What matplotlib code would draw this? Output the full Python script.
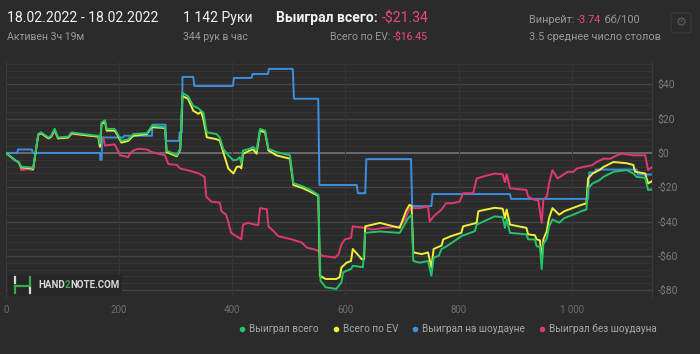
import numpy as np
import matplotlib.pyplot as plt
from matplotlib.lines import Line2D
from matplotlib.patches import FancyBboxPatch, Rectangle

plt.rcParams['font.family'] = ['Roboto', 'DejaVu Sans']

# --- data (hands, $) ---
total_x = [0, 16, 22, 27, 45, 48, 51, 57, 62, 75, 80, 86, 92, 110, 116, 136, 163, 166, 169, 175, 178, 192,
           196, 204, 216, 225, 249, 258, 281, 284, 302, 308, 312, 322, 331, 340, 345, 349, 355, 372, 378,
           384, 393, 402, 408, 413, 416, 419, 431, 437, 443, 449, 458, 464, 478, 502, 508, 525, 537, 552,
           556, 565, 584, 593, 596, 610, 613, 631, 635, 661, 696, 711, 717, 720, 731, 746, 752, 756, 765,
           770, 778, 790, 805, 829, 832, 864, 878, 882, 885, 891, 920, 923, 935, 938, 944, 947, 950, 956,
           960, 966, 978, 987, 1003, 1017, 1026, 1029, 1037, 1049, 1056, 1074, 1097, 1109, 1115, 1130,
           1135, 1142]
total_y = [0, -4.3, -5.3, -8, -8.5, -9, -2.4, 11, 12, 9, 10, 14, 9, 9.5, 12, 11, 10, 5.5, 17.8, 19, 14, 14,
           12, 7, 8, 11, 11.5, 15.8, 15, 1.4, -1.4, 2.6, 35, 33, 27.4, 26, 24.5, 23.5, 12, 11, 9,
           2.4, -1.4, -4.3, -4, -2.5, -6, 1.4, 2.4, 3.5, 1.5, 14, 13, 2.4, 0.5, -1.4, -17.6, -19.5, -21.4, -24.5,
           -74.5, -78.3, -79.3, -75.4, -69.6, -67.7, -65.8, -66.6, -46.6, -45.8, -46.6, -38, -36, -63, -64, -63, -71.6, -61, -60,
           -56, -54.6, -52, -48.5, -45.6, -41.8, -37, -37.5, -43.7, -38.5, -46.6, -47.5, -50.4, -50.4, -54.3, -55, -67.7, -53, -50,
           -42.8, -38.8, -40.7, -38, -36, -34, -33, -20.6, -17.8, -15.9, -14, -11, -10, -12, -14, -14.5,
           -21.6, -21.3]

ev_x = [0, 16, 22, 27, 45, 48, 51, 57, 62, 75, 80, 86, 92, 110, 116, 136, 163, 166, 169, 175, 178, 192,
        196, 204, 216, 225, 249, 258, 281, 284, 302, 308, 312, 322, 331, 340, 345, 349, 355, 372, 378,
        384, 393, 402, 408, 413, 416, 419, 431, 437, 443, 449, 458, 464, 478, 502, 508, 525, 537, 552,
        555, 565, 584, 590, 593, 602, 610, 613, 629, 633, 635, 661, 696, 707, 713, 717, 720, 735, 746,
        752, 756, 770, 773, 787, 805, 808, 832, 835, 849, 864, 878, 882, 885, 891, 920, 923, 935, 938,
        944, 947, 950, 956, 960, 966, 978, 987, 1003, 1017, 1026, 1029, 1037, 1049, 1056, 1074, 1097,
        1109, 1112, 1130, 1135, 1142]
ev_y = [0, -4.3, -5.3, -8.5, -9, -9.5, -2.8, 10.5, 11.5, 8.5, 9.5, 13.5, 8.5, 9, 11.5, 10.5, 9.5, 3.5, 17, 18, 13, 13,
        11, 6, 7, 10, 11, 15, 14.5, 0.5, -2, 2, 33.2, 31.5, 24.6, 22.8, 24, 19.6, 9.1, 8, 7.2,
        0.5, -9.1, -12, -8.1, -8, -9, -0.5, 1.4, 2, -0.5, 13, 12, 1.4, -1.4, -3.4, -18.7, -20.6, -22.5, -25,
        -71.6, -73.5, -73.5, -72.4, -66.8, -64, -63, -56, -62, -62, -42.8, -40.8, -43.7, -34, -30.3, -31, -58, -59, -58,
        -66.8, -56, -54, -50.4, -48.5, -46.6, -42.8, -40.8, -34, -33, -32, -32.5, -38, -33, -41.8, -43.7, -47.5, -48, -50.4,
        -51, -63, -50.4, -45.6, -38, -32.2, -36, -34, -32, -30.3, -29.4, -14.9, -12, -10, -8.2, -5.3, -6,
        -7, -11, -12, -17.8, -16.5]

sd_x = [0, 20, 21, 46, 47, 166, 167, 169, 170, 207, 209, 258, 259, 282, 283, 306, 307, 311, 312, 331, 333,
        401, 403, 434, 436, 463, 465, 507, 509, 552, 554, 620, 622, 635, 637, 716, 718, 752, 754, 891, 893,
        1029, 1031, 1041, 1043, 1115, 1117, 1142]
sd_y = [0, 0, 2, 2, 0, 0, -4, -4, 9, 9, 10, 10, 16.5, 16.5, 7, 7, 12, 12, 44.3, 44.3, 39,
        39, 43.7, 43.7, 46, 46, 49, 49, 31.6, 31.6, -18.7, -18.7, -23.5, -23.5, -3.6, -3.6, -31, -31, -24, -24, -26.8,
        -26.8, -11.4, -11.4, -9.7, -9.7, -12.6, -12.6]

nsd_x = [0, 16, 24, 27, 40, 48, 51, 57, 62, 75, 80, 86, 92, 110, 116, 136, 163, 172, 175, 192, 199, 202,
         216, 219, 225, 233, 249, 258, 281, 287, 302, 308, 320, 331, 341, 351, 354, 363, 378, 381, 389,
         392, 398, 407, 416, 419, 428, 440, 446, 449, 461, 464, 473, 481, 505, 523, 532, 544, 552, 558,
         582, 588, 593, 599, 610, 613, 634, 648, 661, 696, 705, 714, 731, 746, 749, 756, 770, 778, 790,
         802, 808, 826, 832, 841, 864, 878, 882, 885, 891, 920, 923, 935, 941, 947, 950, 956, 960, 966,
         975, 984, 993, 1003, 1009, 1021, 1036, 1044, 1056, 1068, 1080, 1089, 1109, 1130, 1135, 1142]
nsd_y = [0, -4.3, -6, -10, -9.5, -10, -2.4, 10.5, 11.5, 8.5, 9.5, 13, 8.5, 9, 11, 10.5, 9.5, 9, 4.3, 5, 0.5, -1.4,
         -2.4, -0.5, 1.4, 2.4, 2, 0.5, -1.4, -6.5, -7, -9.1, -10, -11, -12, -14, -25.5, -28.4, -29, -34, -36,
         -39, -46.6, -48.5, -50.4, -41.8, -40.8, -41.8, -42, -32.2, -32.8, -42.8, -45.6, -48.5, -50.4, -52.3, -55.2, -56.2, -57, -60,
         -61, -59, -53.3, -50.4, -49.5, -42.8, -43.7, -44.7, -44, -42.8, -38.9, -32.2, -32.2, -31.2, -40, -37, -33, -29.3, -29.3,
         -28.4, -23.5, -23.5, -14.9, -14, -12, -12.5, -17, -12.5, -20.6, -21.6, -25.5, -27.4, -27.5, -40.8, -27, -25.5, -17.8, -10,
         -14.9, -13, -11, -11, -9.1, -8.2, -7.2, -5.3, -3.4, -3.4, -1.4, -0.5, -1.4, -1.4, -10, -8.2]

legend_labels = ['Выиграл всего', 'Всего по EV', 'Выиграл на шоудауне', 'Выиграл без шоудауна']

BG = '#2b2b2b'
GREEN = '#22c46c'
YELLOW = '#eef03a'
BLUE = '#3b8fe0'
PINK = '#e0396f'
RED_TXT = '#ec4a78'
WHITE = '#f2f2f2'
GRAY = '#9a9a9a'

fig = plt.figure(figsize=(7, 3.54), dpi=100, facecolor=BG)
ax = fig.add_axes([6 / 700, 1 - 297 / 354, 646 / 700, 235 / 354], facecolor=BG)

ax.set_xlim(0, 1142)
ax.set_ylim(-84, 53)

# grid
for v in np.arange(-84, 53, 4):
    if v == 0:
        continue
    c = '#444444' if v % 20 == 0 else '#353535'
    ax.axhline(v, color=c, lw=1.0 if v % 20 == 0 else 0.8, zorder=0)
ax.axhline(0, color='#6a6a6a', lw=1.4, zorder=0)
for v in [200, 400, 600, 800, 1000]:
    ax.axvline(v, color='#353535', lw=0.8, zorder=0)

ax.plot(sd_x, sd_y, color=BLUE, lw=1.4, zorder=2)
ax.plot(nsd_x, nsd_y, color=PINK, lw=1.4, zorder=3)
ax.plot(ev_x, ev_y, color=YELLOW, lw=1.4, zorder=4)
ax.plot(total_x, total_y, color=GREEN, lw=1.4, zorder=5)

for s in ['top', 'bottom']:
    ax.spines[s].set_visible(False)
for s in ['left', 'right']:
    ax.spines[s].set_color('#3a3a3a')
    ax.spines[s].set_linewidth(0.8)

ax.set_xticks([0, 200, 400, 600, 800, 1000])
ax.set_xticklabels(['0', '200', '400', '600', '800', '1 000'])
ax.set_yticks([40, 20, 0, -20, -40, -60, -80])
ax.set_yticklabels(['$40', '$20', '$0', '-$20', '-$40', '-$60', '-$80'])
ax.yaxis.tick_right()
ax.tick_params(axis='x', length=0, colors='#6e6e6e', labelsize=7, pad=6)
ax.tick_params(axis='y', length=0, colors='#7c7c7c', labelsize=7.5, pad=4)

# header texts
renderer = fig.canvas.get_renderer()


def seq_text(x, y, parts, size, ha='left'):
    widths = []
    arts = []
    for s, c, w in parts:
        t = fig.text(0, y, s, color=c, fontsize=size, fontweight=w, va='center')
        widths.append(t.get_window_extent(renderer).width / fig.bbox.width)
        arts.append(t)
    if ha == 'right':
        x -= sum(widths)
    for t, wd in zip(arts, widths):
        t.set_x(x)
        x += wd


def yy(py):
    return 1 - py / 354


fig.text(7 / 700, yy(18), '18.02.2022 - 18.02.2022', color=WHITE, fontsize=10.1, va='center')
fig.text(7 / 700, yy(37), 'Активен 3ч 19м', color=GRAY, fontsize=7.6, va='center')
fig.text(183 / 700, yy(18), '1 142 Руки', color=WHITE, fontsize=10.1, va='center')
fig.text(183 / 700, yy(37), '344 рук в час', color=GRAY, fontsize=7.6, va='center')
seq_text(276 / 700, yy(18), [('Выиграл всего: ', WHITE, 'bold'), ('-$21.34', RED_TXT, 'normal')], 10.1)
seq_text(428 / 700, yy(37), [('Всего по EV: ', GRAY, 'normal'), ('-$16.45', RED_TXT, 'normal')], 7.6, ha='right')
seq_text(529 / 700, yy(20), [('Винрейт: ', GRAY, 'normal'), ('-3.74', RED_TXT, 'normal'),
                             (' бб/100', GRAY, 'normal')], 7.8)
fig.text(529 / 700, yy(37), '3.5 среднее число столов', color=GRAY, fontsize=7.8, va='center')

# settings button
fig.patches.append(FancyBboxPatch((671 / 700, yy(33)), 20 / 700, 20 / 354,
                                  boxstyle='round,pad=0,rounding_size=0.006',
                                  transform=fig.transFigure, facecolor=BG, edgecolor='#3c3c3c', lw=0.8))
fig.text(681 / 700, yy(22.5), '⚙', color='#5a5a5a', fontsize=9, ha='center', va='center',
         family=['DejaVu Sans'])

# watermark
fig.patches.append(Rectangle((8 / 700, yy(296)), 114 / 700, 21 / 354, transform=fig.transFigure,
                             facecolor='#262626', edgecolor='none', zorder=1))
for (x0, y0, x1, y1, c) in [(15, 277, 15, 283, '#d8d8d8'), (15, 286, 15, 293, '#3aa84a'),
                            (15, 286, 30, 286, '#3aa84a'), (30, 277, 30, 286, '#3aa84a'),
                            (30, 288, 30, 293, '#d8d8d8')]:
    fig.add_artist(Line2D([x0 / 700, x1 / 700], [yy(y0), yy(y1)], color=c, lw=1.6,
                          transform=fig.transFigure, zorder=6))
seq_text(38 / 700, yy(285), [('HAND', '#d8d8d8', 'bold'), ('2', '#3aa84a', 'bold'),
                            ('NOTE.COM', '#d8d8d8', 'bold')], 7)

# legend
handles = [Line2D([], [], ls='none', marker='o', ms=3, color=c) for c in [GREEN, YELLOW, BLUE, PINK]]
fig.legend(handles, legend_labels, loc='center', bbox_to_anchor=(448 / 700, yy(329)), ncol=4,
           frameon=False, fontsize=7.2, labelcolor='#a8a8a8', handlelength=0.6, handletextpad=0.4,
           columnspacing=1.4)

fig.savefig('out.png', dpi=100, facecolor=BG)
